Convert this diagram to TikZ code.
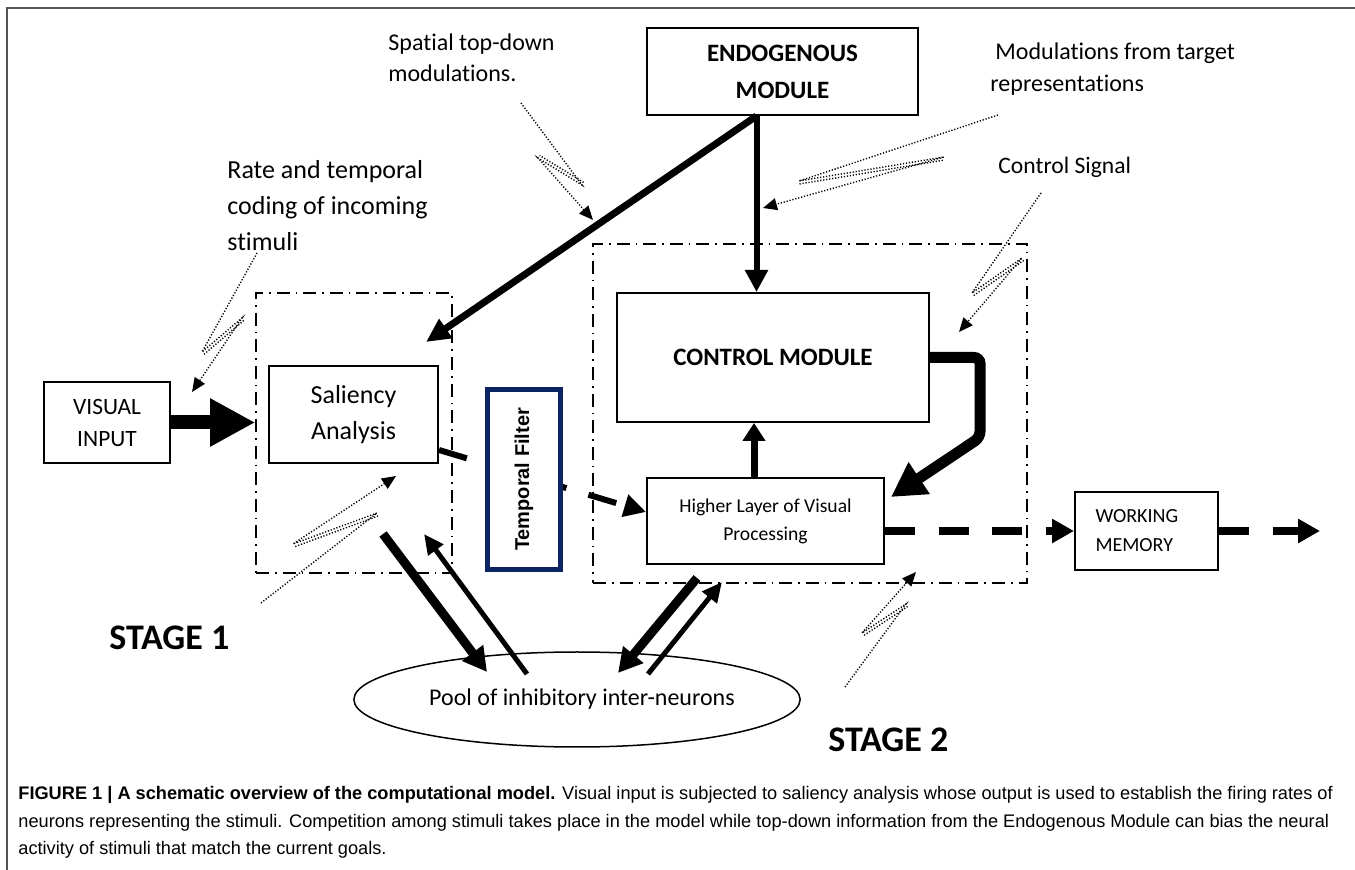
\documentclass[tikz,border=0pt]{standalone}
\usepackage{fontspec}
\setmainfont{Carlito}[Ligatures=NoCommon]
\newfontfamily\capfont{Liberation Sans}
\usetikzlibrary{arrows.meta,shapes.geometric,calc}
\definecolor{tfnavy}{RGB}{12,36,98}
\definecolor{framegray}{RGB}{85,85,85}

\begin{document}
\begin{tikzpicture}[x=0.5pt,y=-0.5pt,
  box/.style={draw,line width=1pt,inner sep=0pt,align=center,fill=white},
  region/.style={draw,line width=0.8pt,inner sep=0pt,dash pattern=on 6.5pt off 3pt on 0.8pt off 3pt},
  heavy/.style={line width=#1},
  fatdash/.style={dash pattern=on 14.5pt off 11.5pt},
  bolt/.style={line width=0.7pt,dash pattern=on 0.6pt off 0.9pt,-{Triangle[length=7pt,width=6pt]}},
  boltpair/.style={line width=0.7pt,dash pattern=on 0.6pt off 0.9pt},
  note/.style={anchor=west,inner sep=0pt,align=left}]
        \useasboundingbox (0,0) rectangle (1355,870);
        \draw[framegray,line width=1pt] (7,870) -- (7,8) -- (1355,8);

        \node[region,minimum width=98pt,minimum height=140pt] (st1) at (354,433) {};
        \node[region,minimum width=217pt,minimum height=169.5pt] (st2) at (810,413.5) {};

        \node[box,minimum width=135.5pt,minimum height=43.5pt,font=\fontsize{12.5}{18.5}\selectfont\bfseries] (endo) at (782.5,71.5) {ENDOGENOUS\\MODULE};
        \node[box,minimum width=63pt,minimum height=40.5pt,font=\fontsize{11.7}{16}\selectfont] (vis) at (107,422.5) {VISUAL\\INPUT};
        \node[box,minimum width=84.5pt,minimum height=48.5pt,font=\fontsize{13}{18}\selectfont] (sal) at (353.5,414.5) {Saliency\\Analysis};
        \node[box,minimum width=156pt,minimum height=64.5pt,font=\fontsize{12.5}{15}\selectfont\bfseries] (ctrl) at (773,357.5) {CONTROL MODULE};
        \node[box,minimum width=118.5pt,minimum height=43pt,font=\fontsize{9.8}{14}\selectfont] (high) at (765.5,521) {Higher Layer of Visual\\Processing};
        \node[box,minimum width=71.5pt,minimum height=39pt,text width=51pt,align=left,font=\fontsize{10}{14.5}\selectfont] (wm) at (1146.5,531) {WORKING\\MEMORY};
        \node[draw,ellipse,line width=0.75pt,inner sep=0pt,minimum width=208pt,minimum height=47.5pt,font=\fontsize{12}{14}\selectfont] (pool) at (577,699.5) {\hspace{5pt}Pool of inhibitory inter-neurons};

        \coordinate (endoL) at ([xshift=-13pt]endo.south);
        \coordinate (salin) at ($(sal.north east)+(-13,-23)$);
        \coordinate (hup) at ([xshift=-5.75pt]high.north);
        \coordinate (salout) at ($(sal.south)+(29.5,70)$);
        \coordinate (salback) at ($(sal.south)+(70.5,70)$);
        \coordinate (poolin) at ($(pool.center)+(-90,-27.5)$);
        \coordinate (poolout) at ($(pool.center)+(-50,-25.5)$);
        \coordinate (highout) at ($(high.south)+(-68.5,13)$);
        \coordinate (highback) at ($(high.south)+(-43.5,17)$);
        \coordinate (poolin2) at ($(pool.center)+(41,-26.5)$);
        \coordinate (poolout2) at ($(pool.center)+(71,-25.5)$);
        \coordinate (wmout) at ($(wm.east)+(101,0)$);

        \draw[heavy=7pt,-{Triangle[length=22.5pt,width=22.5pt]}] (vis.east) -- (vis.east -| st1.west);
        \draw[heavy=3.5pt,-{Triangle[length=12pt,width=11pt]}] (endoL) -- (salin);
        \draw[heavy=3pt,-{Triangle[length=11pt,width=11pt]}] (endoL) -- (endoL |- ctrl.north);
        \draw[heavy=3.5pt,-{Triangle[length=9pt,width=11pt]}] (hup) -- (hup |- ctrl.south);
        \draw[heavy=5.5pt,rounded corners=3pt,-{Triangle[length=17pt,width=18pt]}] (ctrl.east) -- ++(50,0) -- ++(0,80) -- ($(high.north east)+(6,20)$);
        \draw[heavy=3pt,fatdash,-{Triangle[length=11pt,width=11pt]}] ($(sal.south east)+(0,-14)$) -- ($(high.west)+(0,-9)$);
        \draw[heavy=4pt,dash pattern=on 15pt off 11.75pt,-{Triangle[length=11pt,width=11.5pt]}] (high.east |- wm.west) -- (wm.west);
        \draw[heavy=4pt,dash pattern=on 15pt off 11.75pt,-{Triangle[length=11pt,width=11.5pt]}] (wm.east) -- (wmout);

        \draw[heavy=4.5pt,-{Triangle[length=12pt,width=12.5pt]}] (salout) -- (poolin);
        \draw[heavy=2.5pt,-{Triangle[length=10pt,width=9pt]}] (poolout) -- (salback);
        \draw[heavy=4.5pt,-{Triangle[length=12pt,width=12.5pt]}] (highout) -- (poolin2);
        \draw[heavy=2.5pt,-{Triangle[length=10pt,width=9pt]}] (poolout2) -- (highback);

        \node[draw=tfnavy,line width=2.5pt,fill=white,rotate=90,inner sep=0pt,minimum width=90pt,minimum height=36.5pt,font=\capfont\fontsize{10}{12}\selectfont\bfseries] (temp) at (524,479.5) {Temporal Filter};

        \node[note,font=\fontsize{12}{15.5}\selectfont] (spatial) at (388,57.5) {Spatial top-down\\modulations.};
        \node[note,font=\fontsize{13}{18}\selectfont] (rate) at (227,206) {Rate and temporal\\coding of incoming\\stimuli};
        \node[note,font=\fontsize{12}{16}\selectfont] (modtxt) at (990,69) {\hspace{2.5pt}Modulations from target\\representations};
        \node[note,font=\fontsize{11.8}{14}\selectfont] (ctrltxt) at (998,167) {Control Signal};
        \node[note,font=\fontsize{18}{20}\selectfont\bfseries] (stageA) at (109,638) {STAGE 1};
        \node[note,font=\fontsize{18}{20}\selectfont\bfseries] (stageB) at (828,740) {STAGE 2};

        \draw[bolt] (257,253) -- (202,352) -- (242,318) -- (192,392);
        \draw[boltpair] (204,354.3) -- (244,320.3);
        \draw[bolt] (521,103) -- (582,185) -- (538,158) -- (593,220);
        \draw[boltpair] (583.6,182.4) -- (539.6,155.4);
        \draw[bolt] (998,115) -- (799,181) -- (944,157) -- (763,208);
        \draw[boltpair] (799.5,184) -- (944.5,160);
        \draw[bolt] (1041,193) -- (972,293) -- (1022,258) -- (959,332);
        \draw[boltpair] (973.7,295.5) -- (1023.7,260.5);
        \draw[bolt] (261,603) -- (377,513) -- (293,544) -- (396,476);
        \draw[boltpair] (378,516) -- (294,547);
        \draw[bolt] (845,687) -- (906,604) -- (862,633) -- (916,572);
        \draw[boltpair] (907.7,606.5) -- (863.7,635.5);

        \node[anchor=north west,inner sep=0pt,align=left,font=\capfont\fontsize{9.1}{13.75}\selectfont] (cap) at (18,786) {\textbf{FIGURE 1 | A schematic overview of the computational model.} Visual input is subjected to saliency analysis whose output is used to establish the firing rates of\\neurons representing the stimuli. Competition among stimuli takes place in the model while top-down information from the Endogenous Module can bias the neural\\activity of stimuli that match the current goals.};
      \end{tikzpicture}
\end{document}
